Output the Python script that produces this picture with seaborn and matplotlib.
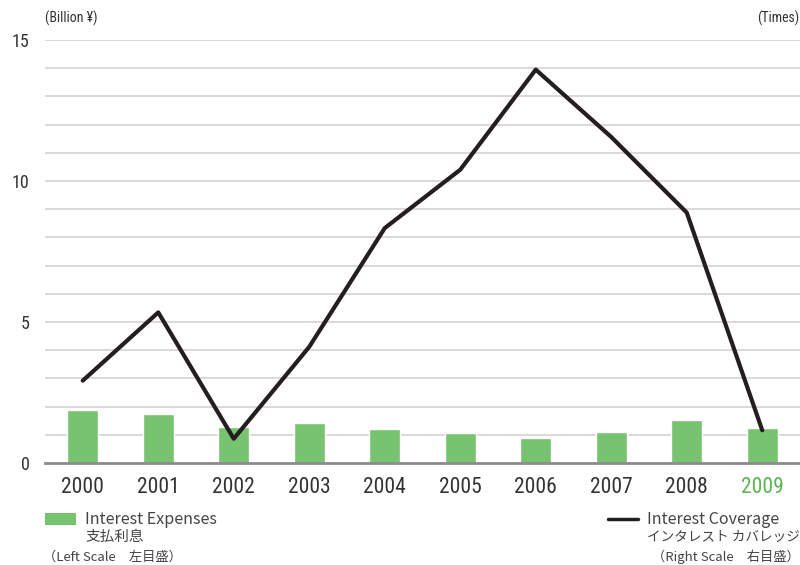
import matplotlib
matplotlib.use('Agg')
import matplotlib.pyplot as plt
from matplotlib.patches import Rectangle
from matplotlib.lines import Line2D
import pandas as pd
import numpy as np
import seaborn as sns

# Dados - Data
years = ['2000', '2001', '2002', '2003', '2004', '2005', '2006', '2007', '2008', '2009']
interest_expenses = [1.88, 1.73, 1.27, 1.41, 1.20, 1.06, 0.88, 1.09, 1.52, 1.24]
interest_coverage = [2.92, 5.34, 0.86, 4.12, 8.33, 10.40, 13.95, 11.56, 8.88, 1.16]
left_ticks = [0, 5, 10, 15]

df = pd.DataFrame({'Ano': years, 'Juros': interest_expenses, 'Cobertura': interest_coverage})
df['pos'] = np.arange(len(df))

green = '#78c36f'
dark = '#231f20'
narrow = ['Roboto Condensed', 'DejaVu Sans Condensed', 'Liberation Sans Narrow', 'Roboto', 'DejaVu Sans']
jp = ['Noto Sans CJK JP', 'DejaVu Sans']

sns.set_theme(style='white')
plt.rcParams['font.family'] = narrow

fig = plt.figure(figsize=(8, 5.65), dpi=100)
ax = fig.add_axes([45 / 800, 1 - 463 / 565, 755 / 800, 423 / 565])

# Barras - Bars (left scale)
sns.barplot(data=df, x='Ano', y='Juros', color=green, width=0.41, saturation=1, ax=ax, zorder=3)
ax.set_xlim(-0.5, len(years) - 0.5)
ax.set_ylim(0, 15)
ax.set_yticks(left_ticks)
ax.set_yticks(np.arange(0, 16, 1), minor=True)
ax.grid(axis='y', which='both', color='#d3d3d3', linewidth=1.2, zorder=0)
ax.set_axisbelow(True)
ax.set_xlabel('')
ax.set_ylabel('')
for s in ['top', 'right', 'left']:
    ax.spines[s].set_visible(False)
ax.spines['bottom'].set_color('#8c8c8c')
ax.spines['bottom'].set_linewidth(2)
ax.spines['bottom'].set_zorder(4)
ax.tick_params(axis='both', which='both', length=0)
ax.tick_params(axis='y', pad=11, labelsize=13, labelcolor='#333333')
ax.tick_params(axis='x', pad=10, labelsize=15.5, labelcolor='#333333')
ax.get_xticklabels()[-1].set_color('#5cb553')

# Linha - Line (right scale)
ax2 = ax.twinx()
sns.lineplot(data=df, x='pos', y='Cobertura', color=dark, linewidth=3, ax=ax2, zorder=5)
ax2.set_ylim(0, 15)
ax2.set_xlim(-0.5, len(years) - 0.5)
ax2.set_yticks([])
ax2.set_ylabel('')
ax2.set_xlabel('')
for s in ax2.spines.values():
    s.set_visible(False)

# Unidades - Units
fig.text(45 / 800, 1 - 18 / 565, '(Billion ¥)', fontsize=10, color='#333333', va='center', ha='left', family=narrow)
fig.text(799 / 800, 1 - 18 / 565, '(Times)', fontsize=10, color='#333333', va='center', ha='right', family=narrow)

# Legenda - Legend
fig.patches.append(Rectangle((45 / 800, 1 - 525 / 565), 31 / 800, 12 / 565, transform=fig.transFigure,
                             facecolor=green, edgecolor='none'))
fig.text(85 / 800, 1 - 519 / 565, 'Interest Expenses', fontsize=11.5, color='#444444', va='center', family=jp)
fig.text(85 / 800, 1 - 537 / 565, '支払利息', fontsize=10.5, color='#444444', va='center', family=jp)
fig.text(43 / 800, 1 - 557 / 565, '（Left Scale　左目盛）', fontsize=9.5, color='#444444', va='center', family=jp)

fig.lines.append(Line2D([608 / 800, 638 / 800], [1 - 519 / 565, 1 - 519 / 565], transform=fig.transFigure,
                        color=dark, linewidth=2.5))
fig.text(647 / 800, 1 - 519 / 565, 'Interest Coverage', fontsize=11.5, color='#444444', va='center', family=jp)
fig.text(647 / 800, 1 - 537 / 565, 'インタレスト カバレッジ', fontsize=9.8, color='#444444', va='center', family=jp)
fig.text(800 / 800, 1 - 557 / 565, '（Right Scale　右目盛）', fontsize=9.5, color='#444444', va='center', ha='right', family=jp)

fig.savefig('out.png', dpi=100)
